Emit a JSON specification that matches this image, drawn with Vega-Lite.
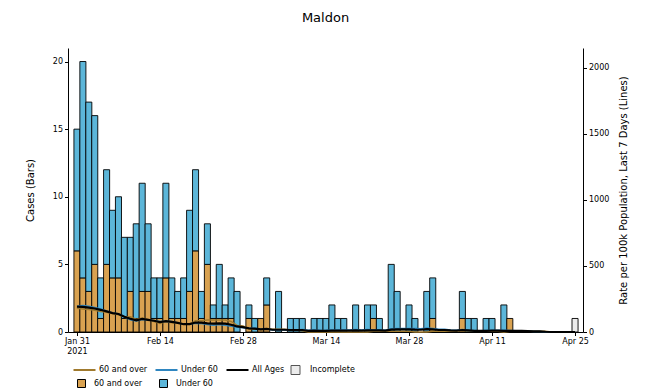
{
  "$schema": "https://vega.github.io/schema/vega-lite/v6.json",
  "width": 515,
  "height": 284,
  "autosize": {"type": "none"},
  "padding": {"left": 68, "top": 48, "right": 68, "bottom": 60},
  "title": {"text": "Maldon", "fontSize": 13, "font": "DejaVu Sans", "fontWeight": "normal", "color": "#000", "offset": 23, "anchor": "middle"},
  "config": {
    "view": {"stroke": null},
    "font": "DejaVu Sans",
    "axis": {"labelFont": "DejaVu Sans", "labelFontSize": 8, "titleFont": "DejaVu Sans", "titleFontSize": 10, "titleFontWeight": "normal", "labelColor": "#000", "titleColor": "#000", "domainColor": "#000", "tickColor": "#000", "tickSize": 3.5, "grid": false},
    "legend": {"labelFont": "DejaVu Sans", "labelFontSize": 8, "labelColor": "#000"}
  },
  "datasets": {
    "bars": [
      {"date": "2021-01-31", "group": "60 and over", "cases": 6}, {"date": "2021-01-31", "group": "Under 60", "cases": 9},
      {"date": "2021-02-01", "group": "60 and over", "cases": 4}, {"date": "2021-02-01", "group": "Under 60", "cases": 16},
      {"date": "2021-02-02", "group": "60 and over", "cases": 3}, {"date": "2021-02-02", "group": "Under 60", "cases": 14},
      {"date": "2021-02-03", "group": "60 and over", "cases": 5}, {"date": "2021-02-03", "group": "Under 60", "cases": 11},
      {"date": "2021-02-04", "group": "60 and over", "cases": 1}, {"date": "2021-02-04", "group": "Under 60", "cases": 3},
      {"date": "2021-02-05", "group": "60 and over", "cases": 5}, {"date": "2021-02-05", "group": "Under 60", "cases": 7},
      {"date": "2021-02-06", "group": "60 and over", "cases": 4}, {"date": "2021-02-06", "group": "Under 60", "cases": 5},
      {"date": "2021-02-07", "group": "60 and over", "cases": 4}, {"date": "2021-02-07", "group": "Under 60", "cases": 6},
      {"date": "2021-02-08", "group": "60 and over", "cases": 1}, {"date": "2021-02-08", "group": "Under 60", "cases": 6},
      {"date": "2021-02-09", "group": "60 and over", "cases": 3}, {"date": "2021-02-09", "group": "Under 60", "cases": 4},
      {"date": "2021-02-10", "group": "60 and over", "cases": 1}, {"date": "2021-02-10", "group": "Under 60", "cases": 7},
      {"date": "2021-02-11", "group": "60 and over", "cases": 3}, {"date": "2021-02-11", "group": "Under 60", "cases": 8},
      {"date": "2021-02-12", "group": "60 and over", "cases": 3}, {"date": "2021-02-12", "group": "Under 60", "cases": 5},
      {"date": "2021-02-13", "group": "60 and over", "cases": 1}, {"date": "2021-02-13", "group": "Under 60", "cases": 3},
      {"date": "2021-02-14", "group": "60 and over", "cases": 1}, {"date": "2021-02-14", "group": "Under 60", "cases": 3},
      {"date": "2021-02-15", "group": "60 and over", "cases": 4}, {"date": "2021-02-15", "group": "Under 60", "cases": 7},
      {"date": "2021-02-16", "group": "60 and over", "cases": 1}, {"date": "2021-02-16", "group": "Under 60", "cases": 3},
      {"date": "2021-02-17", "group": "60 and over", "cases": 1}, {"date": "2021-02-17", "group": "Under 60", "cases": 2},
      {"date": "2021-02-18", "group": "60 and over", "cases": 1}, {"date": "2021-02-18", "group": "Under 60", "cases": 3},
      {"date": "2021-02-19", "group": "60 and over", "cases": 3}, {"date": "2021-02-19", "group": "Under 60", "cases": 6},
      {"date": "2021-02-20", "group": "60 and over", "cases": 6}, {"date": "2021-02-20", "group": "Under 60", "cases": 6},
      {"date": "2021-02-21", "group": "60 and over", "cases": 1}, {"date": "2021-02-21", "group": "Under 60", "cases": 2},
      {"date": "2021-02-22", "group": "60 and over", "cases": 5}, {"date": "2021-02-22", "group": "Under 60", "cases": 3},
      {"date": "2021-02-23", "group": "60 and over", "cases": 1}, {"date": "2021-02-23", "group": "Under 60", "cases": 1},
      {"date": "2021-02-24", "group": "60 and over", "cases": 1}, {"date": "2021-02-24", "group": "Under 60", "cases": 4},
      {"date": "2021-02-25", "group": "60 and over", "cases": 1}, {"date": "2021-02-25", "group": "Under 60", "cases": 1},
      {"date": "2021-02-26", "group": "60 and over", "cases": 1}, {"date": "2021-02-26", "group": "Under 60", "cases": 3},
      {"date": "2021-02-27", "group": "Under 60", "cases": 3},
      {"date": "2021-03-01", "group": "60 and over", "cases": 1}, {"date": "2021-03-01", "group": "Under 60", "cases": 1},
      {"date": "2021-03-02", "group": "Under 60", "cases": 1},
      {"date": "2021-03-03", "group": "60 and over", "cases": 1},
      {"date": "2021-03-04", "group": "60 and over", "cases": 2}, {"date": "2021-03-04", "group": "Under 60", "cases": 2},
      {"date": "2021-03-06", "group": "Under 60", "cases": 3},
      {"date": "2021-03-08", "group": "Under 60", "cases": 1},
      {"date": "2021-03-09", "group": "Under 60", "cases": 1},
      {"date": "2021-03-10", "group": "Under 60", "cases": 1},
      {"date": "2021-03-12", "group": "Under 60", "cases": 1},
      {"date": "2021-03-13", "group": "Under 60", "cases": 1},
      {"date": "2021-03-14", "group": "Under 60", "cases": 1},
      {"date": "2021-03-15", "group": "Under 60", "cases": 2},
      {"date": "2021-03-16", "group": "Under 60", "cases": 1},
      {"date": "2021-03-17", "group": "Under 60", "cases": 1},
      {"date": "2021-03-19", "group": "Under 60", "cases": 2},
      {"date": "2021-03-21", "group": "Under 60", "cases": 2},
      {"date": "2021-03-22", "group": "60 and over", "cases": 1}, {"date": "2021-03-22", "group": "Under 60", "cases": 1},
      {"date": "2021-03-23", "group": "Under 60", "cases": 1},
      {"date": "2021-03-25", "group": "Under 60", "cases": 5},
      {"date": "2021-03-26", "group": "Under 60", "cases": 3},
      {"date": "2021-03-28", "group": "Under 60", "cases": 2},
      {"date": "2021-03-29", "group": "Under 60", "cases": 1},
      {"date": "2021-03-31", "group": "Under 60", "cases": 3},
      {"date": "2021-04-01", "group": "60 and over", "cases": 1}, {"date": "2021-04-01", "group": "Under 60", "cases": 3},
      {"date": "2021-04-06", "group": "60 and over", "cases": 1}, {"date": "2021-04-06", "group": "Under 60", "cases": 2},
      {"date": "2021-04-07", "group": "Under 60", "cases": 1},
      {"date": "2021-04-08", "group": "Under 60", "cases": 1},
      {"date": "2021-04-10", "group": "Under 60", "cases": 1},
      {"date": "2021-04-11", "group": "Under 60", "cases": 1},
      {"date": "2021-04-13", "group": "Under 60", "cases": 2},
      {"date": "2021-04-14", "group": "60 and over", "cases": 1},
      {"date": "2021-04-25", "group": "Incomplete", "cases": 1}
    ],
    "rates": [
      {"date": "2021-01-31", "series": "All Ages", "rate": 192}, {"date": "2021-02-01", "series": "All Ages", "rate": 190}, {"date": "2021-02-02", "series": "All Ages", "rate": 185}, {"date": "2021-02-03", "series": "All Ages", "rate": 178}, {"date": "2021-02-04", "series": "All Ages", "rate": 168}, {"date": "2021-02-05", "series": "All Ages", "rate": 156}, {"date": "2021-02-06", "series": "All Ages", "rate": 143}, {"date": "2021-02-07", "series": "All Ages", "rate": 136}, {"date": "2021-02-08", "series": "All Ages", "rate": 116}, {"date": "2021-02-09", "series": "All Ages", "rate": 100},
      {"date": "2021-02-10", "series": "All Ages", "rate": 88}, {"date": "2021-02-11", "series": "All Ages", "rate": 99}, {"date": "2021-02-12", "series": "All Ages", "rate": 92}, {"date": "2021-02-13", "series": "All Ages", "rate": 85}, {"date": "2021-02-14", "series": "All Ages", "rate": 75}, {"date": "2021-02-15", "series": "All Ages", "rate": 82}, {"date": "2021-02-16", "series": "All Ages", "rate": 77}, {"date": "2021-02-17", "series": "All Ages", "rate": 69}, {"date": "2021-02-18", "series": "All Ages", "rate": 59}, {"date": "2021-02-19", "series": "All Ages", "rate": 60},
      {"date": "2021-02-20", "series": "All Ages", "rate": 72}, {"date": "2021-02-21", "series": "All Ages", "rate": 71}, {"date": "2021-02-22", "series": "All Ages", "rate": 66}, {"date": "2021-02-23", "series": "All Ages", "rate": 63}, {"date": "2021-02-24", "series": "All Ages", "rate": 66}, {"date": "2021-02-25", "series": "All Ages", "rate": 63}, {"date": "2021-02-26", "series": "All Ages", "rate": 55}, {"date": "2021-02-27", "series": "All Ages", "rate": 42}, {"date": "2021-02-28", "series": "All Ages", "rate": 37}, {"date": "2021-03-01", "series": "All Ages", "rate": 28},
      {"date": "2021-03-02", "series": "All Ages", "rate": 26}, {"date": "2021-03-03", "series": "All Ages", "rate": 20}, {"date": "2021-03-04", "series": "All Ages", "rate": 23}, {"date": "2021-03-05", "series": "All Ages", "rate": 17}, {"date": "2021-03-06", "series": "All Ages", "rate": 17}, {"date": "2021-03-07", "series": "All Ages", "rate": 17}, {"date": "2021-03-08", "series": "All Ages", "rate": 15}, {"date": "2021-03-09", "series": "All Ages", "rate": 15}, {"date": "2021-03-10", "series": "All Ages", "rate": 15}, {"date": "2021-03-11", "series": "All Ages", "rate": 9},
      {"date": "2021-03-12", "series": "All Ages", "rate": 11}, {"date": "2021-03-13", "series": "All Ages", "rate": 8}, {"date": "2021-03-14", "series": "All Ages", "rate": 9}, {"date": "2021-03-15", "series": "All Ages", "rate": 11}, {"date": "2021-03-16", "series": "All Ages", "rate": 11}, {"date": "2021-03-17", "series": "All Ages", "rate": 11}, {"date": "2021-03-18", "series": "All Ages", "rate": 11}, {"date": "2021-03-19", "series": "All Ages", "rate": 12}, {"date": "2021-03-20", "series": "All Ages", "rate": 11}, {"date": "2021-03-21", "series": "All Ages", "rate": 12},
      {"date": "2021-03-22", "series": "All Ages", "rate": 12}, {"date": "2021-03-23", "series": "All Ages", "rate": 12}, {"date": "2021-03-24", "series": "All Ages", "rate": 11}, {"date": "2021-03-25", "series": "All Ages", "rate": 18}, {"date": "2021-03-26", "series": "All Ages", "rate": 20}, {"date": "2021-03-27", "series": "All Ages", "rate": 20}, {"date": "2021-03-28", "series": "All Ages", "rate": 20}, {"date": "2021-03-29", "series": "All Ages", "rate": 18}, {"date": "2021-03-30", "series": "All Ages", "rate": 17}, {"date": "2021-03-31", "series": "All Ages", "rate": 22},
      {"date": "2021-04-01", "series": "All Ages", "rate": 20}, {"date": "2021-04-02", "series": "All Ages", "rate": 15}, {"date": "2021-04-03", "series": "All Ages", "rate": 15}, {"date": "2021-04-04", "series": "All Ages", "rate": 12}, {"date": "2021-04-05", "series": "All Ages", "rate": 11}, {"date": "2021-04-06", "series": "All Ages", "rate": 15}, {"date": "2021-04-07", "series": "All Ages", "rate": 12}, {"date": "2021-04-08", "series": "All Ages", "rate": 8}, {"date": "2021-04-09", "series": "All Ages", "rate": 8}, {"date": "2021-04-10", "series": "All Ages", "rate": 9},
      {"date": "2021-04-11", "series": "All Ages", "rate": 11}, {"date": "2021-04-12", "series": "All Ages", "rate": 11}, {"date": "2021-04-13", "series": "All Ages", "rate": 9}, {"date": "2021-04-14", "series": "All Ages", "rate": 9}, {"date": "2021-04-15", "series": "All Ages", "rate": 8}, {"date": "2021-04-16", "series": "All Ages", "rate": 8}, {"date": "2021-04-17", "series": "All Ages", "rate": 6}, {"date": "2021-04-18", "series": "All Ages", "rate": 5}, {"date": "2021-04-19", "series": "All Ages", "rate": 5}, {"date": "2021-04-20", "series": "All Ages", "rate": 2},
      {"date": "2021-04-21", "series": "All Ages", "rate": 0}, {"date": "2021-04-22", "series": "All Ages", "rate": 0}, {"date": "2021-04-23", "series": "All Ages", "rate": 0}, {"date": "2021-04-24", "series": "All Ages", "rate": 0}, {"date": "2021-04-25", "series": "All Ages", "rate": 0},

      {"date": "2021-01-31", "series": "60 and over", "rate": 180}, {"date": "2021-02-01", "series": "60 and over", "rate": 175}, {"date": "2021-02-02", "series": "60 and over", "rate": 170}, {"date": "2021-02-03", "series": "60 and over", "rate": 165}, {"date": "2021-02-04", "series": "60 and over", "rate": 155}, {"date": "2021-02-05", "series": "60 and over", "rate": 150}, {"date": "2021-02-06", "series": "60 and over", "rate": 140}, {"date": "2021-02-07", "series": "60 and over", "rate": 130}, {"date": "2021-02-08", "series": "60 and over", "rate": 115}, {"date": "2021-02-09", "series": "60 and over", "rate": 115},
      {"date": "2021-02-10", "series": "60 and over", "rate": 95}, {"date": "2021-02-11", "series": "60 and over", "rate": 105}, {"date": "2021-02-12", "series": "60 and over", "rate": 95}, {"date": "2021-02-13", "series": "60 and over", "rate": 80}, {"date": "2021-02-14", "series": "60 and over", "rate": 65}, {"date": "2021-02-15", "series": "60 and over", "rate": 80}, {"date": "2021-02-16", "series": "60 and over", "rate": 70}, {"date": "2021-02-17", "series": "60 and over", "rate": 70}, {"date": "2021-02-18", "series": "60 and over", "rate": 60}, {"date": "2021-02-19", "series": "60 and over", "rate": 60},
      {"date": "2021-02-20", "series": "60 and over", "rate": 85}, {"date": "2021-02-21", "series": "60 and over", "rate": 85}, {"date": "2021-02-22", "series": "60 and over", "rate": 90}, {"date": "2021-02-23", "series": "60 and over", "rate": 90}, {"date": "2021-02-24", "series": "60 and over", "rate": 90}, {"date": "2021-02-25", "series": "60 and over", "rate": 90}, {"date": "2021-02-26", "series": "60 and over", "rate": 80}, {"date": "2021-02-27", "series": "60 and over", "rate": 50}, {"date": "2021-02-28", "series": "60 and over", "rate": 45}, {"date": "2021-03-01", "series": "60 and over", "rate": 25},
      {"date": "2021-03-02", "series": "60 and over", "rate": 20}, {"date": "2021-03-03", "series": "60 and over", "rate": 20}, {"date": "2021-03-04", "series": "60 and over", "rate": 25}, {"date": "2021-03-05", "series": "60 and over", "rate": 20}, {"date": "2021-03-06", "series": "60 and over", "rate": 20}, {"date": "2021-03-07", "series": "60 and over", "rate": 20}, {"date": "2021-03-08", "series": "60 and over", "rate": 15}, {"date": "2021-03-09", "series": "60 and over", "rate": 15}, {"date": "2021-03-10", "series": "60 and over", "rate": 10}, {"date": "2021-03-11", "series": "60 and over", "rate": 0},
      {"date": "2021-03-12", "series": "60 and over", "rate": 0}, {"date": "2021-03-13", "series": "60 and over", "rate": 0}, {"date": "2021-03-14", "series": "60 and over", "rate": 0}, {"date": "2021-03-15", "series": "60 and over", "rate": 0}, {"date": "2021-03-16", "series": "60 and over", "rate": 0}, {"date": "2021-03-17", "series": "60 and over", "rate": 0}, {"date": "2021-03-18", "series": "60 and over", "rate": 0}, {"date": "2021-03-19", "series": "60 and over", "rate": 0}, {"date": "2021-03-20", "series": "60 and over", "rate": 0}, {"date": "2021-03-21", "series": "60 and over", "rate": 0},
      {"date": "2021-03-22", "series": "60 and over", "rate": 5}, {"date": "2021-03-23", "series": "60 and over", "rate": 5}, {"date": "2021-03-24", "series": "60 and over", "rate": 5}, {"date": "2021-03-25", "series": "60 and over", "rate": 5}, {"date": "2021-03-26", "series": "60 and over", "rate": 5}, {"date": "2021-03-27", "series": "60 and over", "rate": 5}, {"date": "2021-03-28", "series": "60 and over", "rate": 5}, {"date": "2021-03-29", "series": "60 and over", "rate": 0}, {"date": "2021-03-30", "series": "60 and over", "rate": 0}, {"date": "2021-03-31", "series": "60 and over", "rate": 0},
      {"date": "2021-04-01", "series": "60 and over", "rate": 5}, {"date": "2021-04-02", "series": "60 and over", "rate": 5}, {"date": "2021-04-03", "series": "60 and over", "rate": 5}, {"date": "2021-04-04", "series": "60 and over", "rate": 5}, {"date": "2021-04-05", "series": "60 and over", "rate": 5}, {"date": "2021-04-06", "series": "60 and over", "rate": 10}, {"date": "2021-04-07", "series": "60 and over", "rate": 10}, {"date": "2021-04-08", "series": "60 and over", "rate": 5}, {"date": "2021-04-09", "series": "60 and over", "rate": 5}, {"date": "2021-04-10", "series": "60 and over", "rate": 5},
      {"date": "2021-04-11", "series": "60 and over", "rate": 5}, {"date": "2021-04-12", "series": "60 and over", "rate": 5}, {"date": "2021-04-13", "series": "60 and over", "rate": 0}, {"date": "2021-04-14", "series": "60 and over", "rate": 5}, {"date": "2021-04-15", "series": "60 and over", "rate": 5}, {"date": "2021-04-16", "series": "60 and over", "rate": 5}, {"date": "2021-04-17", "series": "60 and over", "rate": 5}, {"date": "2021-04-18", "series": "60 and over", "rate": 5}, {"date": "2021-04-19", "series": "60 and over", "rate": 5}, {"date": "2021-04-20", "series": "60 and over", "rate": 5},
      {"date": "2021-04-21", "series": "60 and over", "rate": 0}, {"date": "2021-04-22", "series": "60 and over", "rate": 0}, {"date": "2021-04-23", "series": "60 and over", "rate": 0}, {"date": "2021-04-24", "series": "60 and over", "rate": 0}, {"date": "2021-04-25", "series": "60 and over", "rate": 0},

      {"date": "2021-01-31", "series": "Under 60", "rate": 195}, {"date": "2021-02-01", "series": "Under 60", "rate": 200}, {"date": "2021-02-02", "series": "Under 60", "rate": 195}, {"date": "2021-02-03", "series": "Under 60", "rate": 185}, {"date": "2021-02-04", "series": "Under 60", "rate": 175}, {"date": "2021-02-05", "series": "Under 60", "rate": 160}, {"date": "2021-02-06", "series": "Under 60", "rate": 144}, {"date": "2021-02-07", "series": "Under 60", "rate": 138}, {"date": "2021-02-08", "series": "Under 60", "rate": 115}, {"date": "2021-02-09", "series": "Under 60", "rate": 93},
      {"date": "2021-02-10", "series": "Under 60", "rate": 84}, {"date": "2021-02-11", "series": "Under 60", "rate": 95}, {"date": "2021-02-12", "series": "Under 60", "rate": 91}, {"date": "2021-02-13", "series": "Under 60", "rate": 87}, {"date": "2021-02-14", "series": "Under 60", "rate": 80}, {"date": "2021-02-15", "series": "Under 60", "rate": 82}, {"date": "2021-02-16", "series": "Under 60", "rate": 80}, {"date": "2021-02-17", "series": "Under 60", "rate": 69}, {"date": "2021-02-18", "series": "Under 60", "rate": 58}, {"date": "2021-02-19", "series": "Under 60", "rate": 60},
      {"date": "2021-02-20", "series": "Under 60", "rate": 67}, {"date": "2021-02-21", "series": "Under 60", "rate": 64}, {"date": "2021-02-22", "series": "Under 60", "rate": 56}, {"date": "2021-02-23", "series": "Under 60", "rate": 51}, {"date": "2021-02-24", "series": "Under 60", "rate": 56}, {"date": "2021-02-25", "series": "Under 60", "rate": 51}, {"date": "2021-02-26", "series": "Under 60", "rate": 44}, {"date": "2021-02-27", "series": "Under 60", "rate": 38}, {"date": "2021-02-28", "series": "Under 60", "rate": 33}, {"date": "2021-03-01", "series": "Under 60", "rate": 29},
      {"date": "2021-03-02", "series": "Under 60", "rate": 29}, {"date": "2021-03-03", "series": "Under 60", "rate": 20}, {"date": "2021-03-04", "series": "Under 60", "rate": 22}, {"date": "2021-03-05", "series": "Under 60", "rate": 16}, {"date": "2021-03-06", "series": "Under 60", "rate": 16}, {"date": "2021-03-07", "series": "Under 60", "rate": 16}, {"date": "2021-03-08", "series": "Under 60", "rate": 16}, {"date": "2021-03-09", "series": "Under 60", "rate": 16}, {"date": "2021-03-10", "series": "Under 60", "rate": 18}, {"date": "2021-03-11", "series": "Under 60", "rate": 13},
      {"date": "2021-03-12", "series": "Under 60", "rate": 16}, {"date": "2021-03-13", "series": "Under 60", "rate": 11}, {"date": "2021-03-14", "series": "Under 60", "rate": 13}, {"date": "2021-03-15", "series": "Under 60", "rate": 16}, {"date": "2021-03-16", "series": "Under 60", "rate": 16}, {"date": "2021-03-17", "series": "Under 60", "rate": 16}, {"date": "2021-03-18", "series": "Under 60", "rate": 16}, {"date": "2021-03-19", "series": "Under 60", "rate": 18}, {"date": "2021-03-20", "series": "Under 60", "rate": 16}, {"date": "2021-03-21", "series": "Under 60", "rate": 18},
      {"date": "2021-03-22", "series": "Under 60", "rate": 16}, {"date": "2021-03-23", "series": "Under 60", "rate": 16}, {"date": "2021-03-24", "series": "Under 60", "rate": 13}, {"date": "2021-03-25", "series": "Under 60", "rate": 24}, {"date": "2021-03-26", "series": "Under 60", "rate": 27}, {"date": "2021-03-27", "series": "Under 60", "rate": 27}, {"date": "2021-03-28", "series": "Under 60", "rate": 27}, {"date": "2021-03-29", "series": "Under 60", "rate": 27}, {"date": "2021-03-30", "series": "Under 60", "rate": 24}, {"date": "2021-03-31", "series": "Under 60", "rate": 31},
      {"date": "2021-04-01", "series": "Under 60", "rate": 27}, {"date": "2021-04-02", "series": "Under 60", "rate": 20}, {"date": "2021-04-03", "series": "Under 60", "rate": 20}, {"date": "2021-04-04", "series": "Under 60", "rate": 16}, {"date": "2021-04-05", "series": "Under 60", "rate": 13}, {"date": "2021-04-06", "series": "Under 60", "rate": 18}, {"date": "2021-04-07", "series": "Under 60", "rate": 13}, {"date": "2021-04-08", "series": "Under 60", "rate": 9}, {"date": "2021-04-09", "series": "Under 60", "rate": 9}, {"date": "2021-04-10", "series": "Under 60", "rate": 11},
      {"date": "2021-04-11", "series": "Under 60", "rate": 13}, {"date": "2021-04-12", "series": "Under 60", "rate": 13}, {"date": "2021-04-13", "series": "Under 60", "rate": 13}, {"date": "2021-04-14", "series": "Under 60", "rate": 11}, {"date": "2021-04-15", "series": "Under 60", "rate": 9}, {"date": "2021-04-16", "series": "Under 60", "rate": 9}, {"date": "2021-04-17", "series": "Under 60", "rate": 7}, {"date": "2021-04-18", "series": "Under 60", "rate": 4}, {"date": "2021-04-19", "series": "Under 60", "rate": 4}, {"date": "2021-04-20", "series": "Under 60", "rate": 0},
      {"date": "2021-04-21", "series": "Under 60", "rate": 0}, {"date": "2021-04-22", "series": "Under 60", "rate": 0}, {"date": "2021-04-23", "series": "Under 60", "rate": 0}, {"date": "2021-04-24", "series": "Under 60", "rate": 0}, {"date": "2021-04-25", "series": "Under 60", "rate": 0}
    ]
  },
  "layer": [
    {
      "data": {"name": "bars"},
      "mark": {"type": "bar", "width": 6.05, "stroke": "#000", "strokeWidth": 0.9},
      "encoding": {
        "x": {
          "field": "date", "type": "temporal",
          "scale": {"type": "utc", "domain": [{"year": 2021, "month": 1, "date": 30, "hours": 8, "utc": true}, {"year": 2021, "month": 4, "date": 25, "hours": 12, "utc": true}]},
          "axis": {
            "title": null,
            "values": [
              {"year": 2021, "month": 1, "date": 31, "utc": true},
              {"year": 2021, "month": 2, "date": 14, "utc": true},
              {"year": 2021, "month": 2, "date": 28, "utc": true},
              {"year": 2021, "month": 3, "date": 14, "utc": true},
              {"year": 2021, "month": 3, "date": 28, "utc": true},
              {"year": 2021, "month": 4, "date": 11, "utc": true},
              {"year": 2021, "month": 4, "date": 25, "utc": true}
            ],
            "labelExpr": "utcFormat(datum.value, '%b %d') == 'Jan 31' ? ['Jan 31', '2021'] : utcFormat(datum.value, '%b %d')",
            "labelAngle": 0, "labelFlush": false, "labelOverlap": false, "labelPadding": 2, "labelLineHeight": 10
          }
        },
        "y": {
          "field": "cases", "type": "quantitative", "stack": "zero",
          "scale": {"domain": [0, 21], "nice": false},
          "axis": {"title": "Cases (Bars)", "values": [0, 5, 10, 15, 20], "titlePadding": 17}
        },
        "fill": {
          "field": "group", "type": "nominal",
          "scale": {"domain": ["60 and over", "Under 60", "Incomplete"], "range": ["#d9a251", "#5cb6d9", "#ececec"]},
          "legend": {
            "values": ["60 and over", "Under 60"], "title": null, "orient": "none", "direction": "horizontal", "gridAlign": "none",
            "legendX": 9, "legendY": 331, "symbolType": "square", "symbolSize": 64,
            "symbolStrokeColor": "#000", "symbolStrokeWidth": 1, "labelOffset": 8, "columnPadding": 14
          }
        },
        "order": {"field": "group", "sort": "ascending"}
      }
    },
    {
      "data": {"name": "rates"},
      "encoding": {
        "x": {"field": "date", "type": "temporal"},
        "y": {
          "field": "rate", "type": "quantitative",
          "scale": {"domain": [0, 2150], "nice": false},
          "axis": {"orient": "right", "title": "Rate per 100k Population, Last 7 Days (Lines)", "values": [0, 500, 1000, 1500, 2000], "format": "d", "titleAngle": 270, "titleBaseline": "bottom", "titlePadding": 20}
        },
        "stroke": {
          "field": "series", "type": "nominal",
          "scale": {"domain": ["60 and over", "Under 60", "All Ages", "Incomplete"], "range": ["#a07a2e", "#2f86c0", "#000000", "#555555"]},
          "legend": {
            "title": null, "orient": "none", "direction": "horizontal", "gridAlign": "none", "legendX": 12.5, "legendY": 318,
            "symbolType": "stroke", "symbolSize": 81, "symbolStrokeWidth": 2, "labelOffset": 10.5, "columnPadding": 4,
            "encode": {
              "symbols": {
                "update": {
                  "shape": {"signal": "datum.value === 'Incomplete' ? 'square' : 'stroke'"},
                  "size": {"signal": "datum.value === 'Incomplete' ? 81 : 484"},
                  "fill": {"signal": "datum.value === 'Incomplete' ? '#ececec' : 'transparent'"},
                  "strokeWidth": {"signal": "datum.value === 'Incomplete' ? 1 : 2"}
                }
              }
            }
          }
        }
      },
      "layer": [
        {"transform": [{"filter": "datum.series === '60 and over'"}], "mark": {"type": "line", "strokeWidth": 1.5}},
        {"transform": [{"filter": "datum.series === 'Under 60'"}], "mark": {"type": "line", "strokeWidth": 1.5}},
        {"transform": [{"filter": "datum.series === 'All Ages'"}], "mark": {"type": "line", "strokeWidth": 2.2}}
      ]
    }
  ],
  "resolve": {"scale": {"y": "independent"}}
}
